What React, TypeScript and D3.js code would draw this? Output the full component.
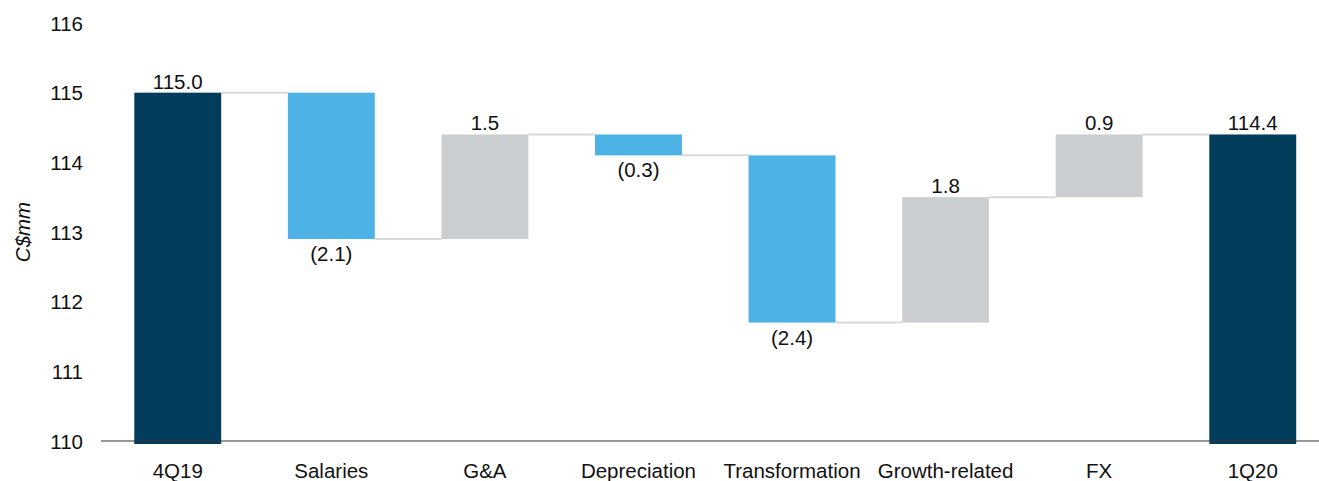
import * as React from "react";
import * as d3 from "d3";

const categories = ["4Q19", "Salaries", "G&A", "Depreciation", "Transformation", "Growth-related", "FX", "1Q20"];
const changes = [115.0, -2.1, 1.5, -0.3, -2.4, 1.8, 0.9, 114.4];
const isTotal = [true, false, false, false, false, false, false, true];
const yTicks = [110, 111, 112, 113, 114, 115, 116];

const W = 1319;
const H = 481;

const WaterfallChart = () => {
  const svgRef = React.useRef<SVGSVGElement>(null);

  React.useEffect(() => {
    const svg = d3.select(svgRef.current);
    svg.selectAll("*").remove();

    const y = d3.scaleLinear().domain([110, 116]).range([441, 23]);
    const x = d3
      .scaleBand()
      .domain(categories)
      .range([57.5, 1373])
      .paddingInner(0.434)
      .paddingOuter(0.5);

    // build running totals
    let run = 0;
    const bars = categories.map((c, i) => {
      let lo: number, hi: number;
      if (isTotal[i]) {
        lo = 110;
        hi = changes[i];
        run = changes[i];
      } else {
        const prev = run;
        run = +(run + changes[i]).toFixed(2);
        lo = Math.min(prev, run);
        hi = Math.max(prev, run);
      }
      return { c, i, lo, hi, end: run, v: changes[i] };
    });

    const font = "'Liberation Sans', Arial, sans-serif";
    const fs = "20.5px";

    // connectors
    bars.slice(0, -1).forEach((b, i) => {
      const next = bars[i + 1];
      svg
        .append("line")
        .attr("x1", x(b.c)! + x.bandwidth())
        .attr("x2", x(next.c)!)
        .attr("y1", y(b.end))
        .attr("y2", y(b.end))
        .attr("stroke", "#d9d9d9")
        .attr("stroke-width", 2);
    });

    // bars
    svg
      .selectAll("rect.bar")
      .data(bars)
      .enter()
      .append("rect")
      .attr("class", "bar")
      .attr("x", (d) => x(d.c)!)
      .attr("width", x.bandwidth())
      .attr("y", (d) => y(d.hi))
      .attr("height", (d) => y(d.lo) - y(d.hi) + (isTotal[d.i] ? 3 : 0))
      .attr("fill", (d) => (isTotal[d.i] ? "#023e5c" : d.v < 0 ? "#4db3e6" : "#cbced1"));

    // x axis line
    svg
      .append("line")
      .attr("x1", 101)
      .attr("x2", W)
      .attr("y1", y(110))
      .attr("y2", y(110))
      .attr("stroke", "#333")
      .attr("stroke-width", 1.2);

    // value labels
    svg
      .selectAll("text.val")
      .data(bars)
      .enter()
      .append("text")
      .attr("class", "val")
      .attr("x", (d) => x(d.c)! + x.bandwidth() / 2)
      .attr("y", (d) => (isTotal[d.i] || d.v >= 0 ? y(d.hi) - 4 : y(d.lo) + 22))
      .attr("text-anchor", "middle")
      .attr("font-family", font)
      .attr("font-size", fs)
      .attr("fill", "#111")
      .text((d) => (d.v < 0 ? `(${Math.abs(d.v).toFixed(1)})` : d.v.toFixed(1)));

    // y tick labels
    svg
      .selectAll("text.ytick")
      .data(yTicks)
      .enter()
      .append("text")
      .attr("class", "ytick")
      .attr("x", 83)
      .attr("y", (d) => y(d) + 7.5)
      .attr("text-anchor", "end")
      .attr("font-family", font)
      .attr("font-size", fs)
      .attr("fill", "#111")
      .text((d) => d);

    // category labels
    svg
      .selectAll("text.cat")
      .data(categories)
      .enter()
      .append("text")
      .attr("class", "cat")
      .attr("x", (d) => x(d)! + x.bandwidth() / 2)
      .attr("y", 478)
      .attr("text-anchor", "middle")
      .attr("font-family", font)
      .attr("font-size", fs)
      .attr("fill", "#111")
      .text((d) => d);

    // y axis title
    svg
      .append("text")
      .attr("transform", `translate(30 232) rotate(-90)`)
      .attr("text-anchor", "middle")
      .attr("font-family", font)
      .attr("font-size", fs)
      .attr("font-style", "italic")
      .attr("fill", "#111")
      .text("C$mm");
  }, []);

  return <svg ref={svgRef} width={W} height={H} style={{ display: "block" }} />;
};

export default function App() {
  return (
    <div style={{ position: "absolute", left: 0, top: 0 }}>
      <WaterfallChart />
    </div>
  );
}
